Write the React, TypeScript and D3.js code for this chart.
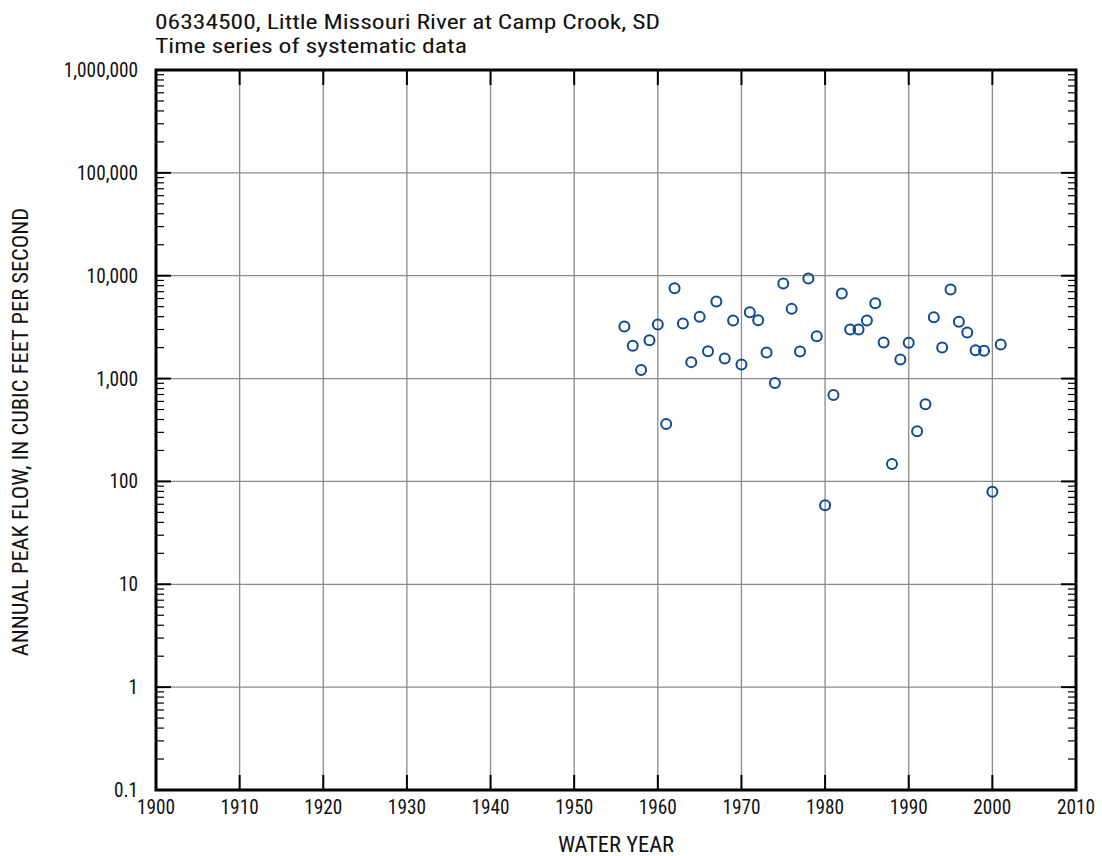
import React from "react";
import * as d3 from "d3";

const years = [1956,1957,1958,1959,1960,1961,1962,1963,1964,1965,1966,1967,1968,1969,1970,1971,1972,1973,1974,1975,1976,1977,1978,1979,1980,1981,1982,1983,1984,1985,1986,1987,1988,1989,1990,1991,1992,1993,1994,1995,1996,1997,1998,1999,2000,2001];
const peaks = [3210,2080,1210,2360,3350,362,7540,3430,1445,3980,1846,5600,1570,3660,1373,4410,3690,1795,904,8420,4760,1835,9420,2580,58.6,692,6730,3000,3000,3660,5390,2240,148,1535,2230,308,562,3940,2005,7360,3560,2800,1890,1860,79.4,2145];
const xTicks = [1900,1910,1920,1930,1940,1950,1960,1970,1980,1990,2000,2010];
const yTicks = [0.1,1,10,100,1000,10000,100000,1000000];
const yTickLabels = ["0.1","1","10","100","1,000","10,000","100,000","1,000,000"];
const titleLines = ["06334500, Little Missouri River at Camp Crook, SD","Time series of systematic data"];
const titleWidths = [505, 312];

const FONT = "'Liberation Sans Narrow', 'Roboto Condensed', 'Arial Narrow', Roboto, sans-serif";

export default function App() {
  const W = 1102, H = 856;
  const L = 156, R = 1076, T = 70, B = 790;
  const x = d3.scaleLinear().domain([1900, 2010]).range([L, R]);
  const y = d3.scaleLog().domain([0.1, 1000000]).range([B, T]);
  const minors: number[] = [];
  for (let e = -1; e < 6; e++) {
    for (let m = 2; m <= 9; m++) minors.push(m * Math.pow(10, e));
  }
  const grid = "#8a8a86";
  const blue = "#0d4a8f";
  return (
    <svg width={W} height={H} style={{ position: "absolute", left: 0, top: 0, background: "#fff" }}>
      <rect x={0} y={0} width={W} height={H} fill="#fff" />
      {titleLines.map((t, i) => (
        <text key={i} x={155} y={29 + i * 24} fontFamily={FONT} fontSize={21} textLength={titleWidths[i]} lengthAdjust="spacingAndGlyphs" fill="#111">{t}</text>
      ))}
      {/* gridlines */}
      {xTicks.slice(1, -1).map((v) => (
        <line key={"gx" + v} x1={x(v)} x2={x(v)} y1={T} y2={B} stroke={grid} strokeWidth={1.3} />
      ))}
      {yTicks.slice(1, -1).map((v) => (
        <line key={"gy" + v} x1={L} x2={R} y1={y(v)} y2={y(v)} stroke={grid} strokeWidth={1.3} />
      ))}
      {/* ticks */}
      {xTicks.slice(1, -1).map((v) => (
        <g key={"tx" + v}>
          <line x1={x(v)} x2={x(v)} y1={B} y2={B - 15} stroke="#000" strokeWidth={2} />
          <line x1={x(v)} x2={x(v)} y1={T} y2={T + 15} stroke="#000" strokeWidth={2} />
        </g>
      ))}
      {yTicks.slice(1, -1).map((v) => (
        <g key={"ty" + v}>
          <line x1={L} x2={L + 15} y1={y(v)} y2={y(v)} stroke="#000" strokeWidth={2} />
          <line x1={R} x2={R - 15} y1={y(v)} y2={y(v)} stroke="#000" strokeWidth={2} />
        </g>
      ))}
      {minors.map((v, i) => (
        <g key={"my" + i}>
          <line x1={L} x2={L + 8} y1={y(v)} y2={y(v)} stroke="#000" strokeWidth={1.2} />
          <line x1={R} x2={R - 8} y1={y(v)} y2={y(v)} stroke="#000" strokeWidth={1.2} />
        </g>
      ))}
      {/* frame */}
      <rect x={L} y={T} width={R - L} height={B - T} fill="none" stroke="#000" strokeWidth={3} />
      {/* tick labels */}
      {xTicks.map((v) => (
        <text key={"lx" + v} x={x(v)} y={814} textAnchor="middle" fontFamily={FONT} fontSize={19.3} fill="#111">{v}</text>
      ))}
      {yTicks.map((v, i) => (
        <text key={"ly" + v} x={138} y={y(v) + 7} textAnchor="end" fontFamily={FONT} fontSize={19.3} fill="#111">{yTickLabels[i]}</text>
      ))}
      {/* axis titles */}
      <text x={(L + R) / 2} y={852} textAnchor="middle" fontFamily={FONT} fontSize={22.5} fill="#111">WATER YEAR</text>
      <text transform={`translate(28,${(T + B) / 2 + 2}) rotate(-90)`} textAnchor="middle" fontFamily={FONT} fontSize={22.5} fill="#111">ANNUAL PEAK FLOW, IN CUBIC FEET PER SECOND</text>
      {/* data */}
      {years.map((yr, i) => (
        <circle key={"p" + yr} cx={x(yr)} cy={y(peaks[i])} r={5} fill="none" stroke={blue} strokeWidth={2} />
      ))}
    </svg>
  );
}
